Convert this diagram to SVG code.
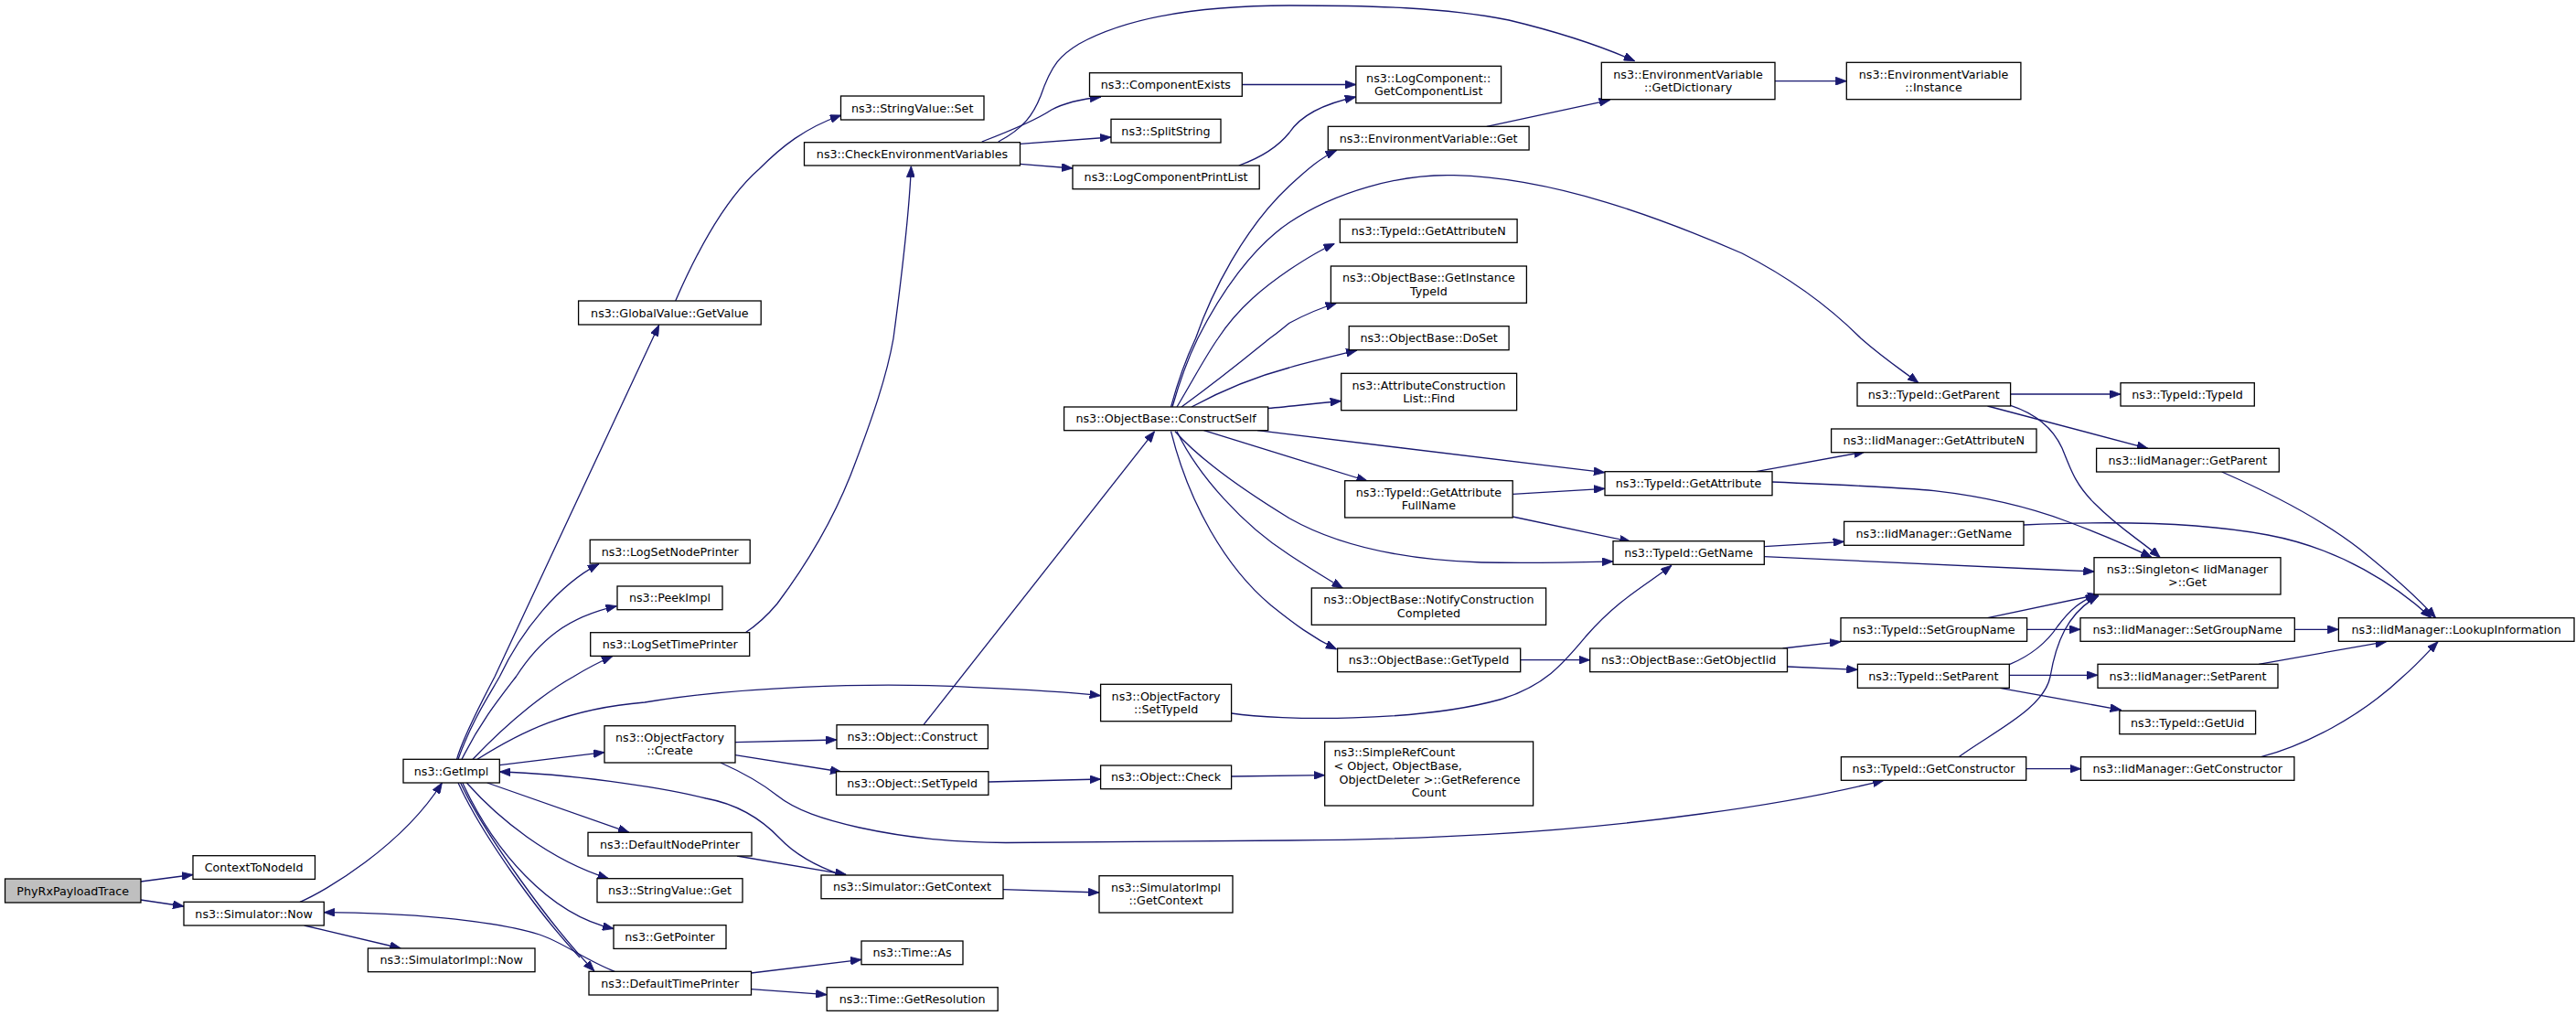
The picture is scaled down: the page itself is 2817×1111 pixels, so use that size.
<svg xmlns="http://www.w3.org/2000/svg" width="2817" height="1111" viewBox="0 0 2817 1111">
<style>
.n rect{fill:#fff;stroke:#000;stroke-width:1.3}
.g rect{fill:#bfbfbf;stroke:#000;stroke-width:1.3}
text{font-family:"DejaVu Sans","Liberation Sans",sans-serif;font-size:12.7px;text-anchor:middle;fill:#000}
text.l{text-anchor:start}
#edges path{fill:none;stroke:#191970;stroke-width:1.3;marker-end:url(#a)}
#edges path.nm{marker-end:none}
</style>
<defs>
<marker id="a" viewBox="0 0 12 9" refX="12" refY="4.5" markerWidth="12" markerHeight="9" markerUnits="userSpaceOnUse" orient="auto">
<path d="M0,0 L12,4.5 L0,9 z" fill="#191970" stroke="#191970" stroke-width="0.8"/>
</marker>
</defs>
<rect width="2817" height="1111" fill="#fff"/>
<g id="edges">
<path d="M153.8,964 L210.9,956.5"/>
<path d="M153.8,984 L201,991"/>
<path d="M328,986.3 C355,975 440,925 483.4,856"/>
<path d="M332.7,1012 L438.4,1037"/>
<path d="M672.2,1062.3 C640,1050 615,1030 590,1022 C540,1006 440,998 354.3,997.7"/>
<path d="M503.6,856 C530,912 600,1010 650,1062"/>
<path class="nm" d="M501,856 C528,915 590,1000 634,1047"/>
<path d="M532.8,856 L688,910.3"/>
<path d="M510.3,856 C545,895 600,940 665.5,960.7"/>
<path d="M505.8,856 C540,930 600,1000 671,1015.5"/>
<path d="M499.5,830.3 C505,810 520,780 541,740 L720.7,355.3"/>
<path d="M501,830.3 C515,790 535,760 546.3,740 C570,690 610,640 655,616.7"/>
<path d="M505,830.3 C525,790 545,765 564.3,740 C590,700 620,675 674.5,662.7"/>
<path d="M517,830.3 C560,785 600,755 627,740 C640,732 655,724 670,717.5"/>
<path d="M522,830.3 C570,800 620,775 705,768 C800,752 950,745 1064.7,751.7 C1120,754 1170,757 1203.6,760.7"/>
<path d="M546.3,836.7 L661,822.7"/>
<path d="M920.8,957 C895,948 870,935 853,917 C835,898 810,880 772,873 C720,860 620,846 546.3,844"/>
<path d="M806,936 L925.3,956.3"/>
<path d="M804,811.7 L915,809"/>
<path d="M804,825.7 L920,844"/>
<path d="M788,834 C815,846 835,858 850,870 C870,886 900,896 940,905 C1000,918 1050,921 1100,921.5 L1410,919 C1550,918 1700,912 1860,890 C1950,878 2010,866 2060,853.3"/>
<path d="M1081,855 L1203.6,852"/>
<path d="M1346.6,849 L1448.7,847.7"/>
<path d="M1009.9,792.7 L1262.6,471.7"/>
<path d="M1346.6,780 C1400,788 1550,790 1640,765 C1690,750 1710,725 1735,695 C1770,655 1800,640 1828,618.3"/>
<path d="M1097,972.7 L1202,976"/>
<path d="M821.5,1064 L942,1049.3"/>
<path d="M821.5,1081.7 L904.2,1087.7"/>
<path d="M815.2,691.7 C830,682 840,672 850,660 C880,620 910,570 930,520 C955,455 970,410 977,370 C985,310 994,240 996.4,181.7"/>
<path d="M738.7,329 C760,280 790,220 830,185 C855,160 880,140 919.9,126"/>
<path d="M1091.7,155 C1120,140 1130,125 1138,105 C1150,70 1160,60 1180,48 C1240,15 1330,6 1410,6 C1500,6 1580,8 1650,22 C1700,34 1750,50 1787.7,66.7"/>
<path d="M1073.7,155 C1105,143 1135,130 1150,120 C1165,112 1185,108 1204,106"/>
<path d="M1115.5,157.3 L1214.9,150"/>
<path d="M1115.5,179.3 L1173,184"/>
<path d="M1358.3,92.5 L1482.8,92.5"/>
<path d="M1354.7,181 C1380,172 1398,160 1410,145 C1420,130 1440,115 1482.8,106"/>
<path d="M1625.8,138.3 L1760.7,109.3"/>
<path d="M1941,88.7 L2019.3,88.7"/>
<path d="M1280.5,445 C1290,410 1298,390 1307.5,370 C1325,320 1360,250 1410,203.3 C1430,185 1445,172 1461.7,164.5"/>
<path d="M1282,445 C1292,410 1300,390 1309.8,370 C1335,320 1370,270 1410,243.3 C1460,210 1530,190 1590,191.7 C1700,194 1820,240 1905,277 C1960,305 2000,335 2035,370 C2060,392 2080,405 2098,418.7"/>
<path d="M1287,445 C1305,415 1318,390 1332,370 C1355,335 1385,312 1410,295 C1425,285 1440,275 1459.5,266.5"/>
<path d="M1292,445 C1340,410 1370,385 1388.5,370 C1400,362 1405,357 1410,353.3 C1425,345 1440,338 1461.7,331.5"/>
<path d="M1303,445 C1340,425 1380,410 1410,402 C1430,396 1455,390 1484,383"/>
<path d="M1386.7,446.5 C1410,444.5 1440,441 1466.7,438.5"/>
<path d="M1375,470.7 L1754.9,516.7"/>
<path d="M1316.5,470.7 L1495.4,526"/>
<path d="M1285,471.7 C1310,500 1350,530 1410,566.7 C1460,595 1530,612 1620,615 C1680,616 1720,615 1763.9,614"/>
<path d="M1287,471.7 C1310,520 1360,575 1410,606.7 C1430,620 1450,632 1468.5,643.3"/>
<path d="M1280.5,471.7 C1300,550 1340,620 1390,662 C1415,682 1435,697 1461.7,710"/>
<path d="M1654.2,540.3 L1754.9,534.3"/>
<path d="M1654.2,565 L1783.2,592.3"/>
<path d="M1662.7,721.7 L1738.7,721.7"/>
<path d="M1949.6,709 L2013,701.7"/>
<path d="M1954.5,729 L2031.4,732.3"/>
<path d="M1920.3,515.7 L2039.5,494"/>
<path d="M1937.9,527 C2010,530 2080,533 2115,536.7 C2170,543 2220,555 2260,570 C2300,585 2330,598 2353.3,609.7"/>
<path d="M1929.3,597.7 L2016.6,592.3"/>
<path d="M1929.3,608.7 C2000,612 2150,619 2290.4,625"/>
<path d="M2198.6,431 L2319,431"/>
<path d="M2173.5,444 L2348.8,490.3"/>
<path d="M2198.6,443.3 C2225,452 2245,468 2255,490 C2265,515 2270,530 2290,550 C2320,580 2340,590 2362.3,609.7"/>
<path d="M2429.7,516 C2480,538 2535,565 2580,600 C2615,628 2645,655 2663.6,675.7"/>
<path d="M2213,574 C2300,570 2400,570 2480,585 C2560,600 2620,640 2659,675.7"/>
<path d="M2173.5,675.7 L2294.9,650"/>
<path d="M2216.6,688.3 L2275,688.3"/>
<path d="M2509.3,688.3 L2557.4,688.3"/>
<path d="M2197.3,726.7 C2225,715 2240,700 2250,685 C2265,665 2275,658 2292.6,650"/>
<path d="M2197.3,738.3 L2294,738.3"/>
<path d="M2187,752.3 L2319.6,776.3"/>
<path d="M2470,726.3 L2609.6,701.7"/>
<path d="M2142,827.7 C2180,800 2235,775 2242,740 C2248,705 2260,670 2295,651.5"/>
<path d="M2215.7,840.7 L2275.5,840.7"/>
<path d="M2472.5,827.7 C2520,815 2580,785 2627.6,740 C2645,725 2655,713 2666,701.7"/>
</g>
<g id="n1" class="g"><rect x="5.5" y="961" width="148.5" height="26"/><text x="79.7" y="978.5">PhyRxPayloadTrace</text></g>
<g id="n2" class="n"><rect x="211" y="935.7" width="133.5" height="25.7"/><text x="277.7" y="953">ContextToNodeId</text></g>
<g id="n3" class="n"><rect x="201" y="986.3" width="153.3" height="25.7"/><text x="277.6" y="1003.6">ns3::Simulator::Now</text></g>
<g id="n4" class="n"><rect x="402.4" y="1037" width="182.6" height="25.7"/><text x="493.7" y="1054.3">ns3::SimulatorImpl::Now</text></g>
<g id="n5" class="n"><rect x="441" y="830.3" width="105.3" height="25.7"/><text x="493.6" y="847.6">ns3::GetImpl</text></g>
<g id="n6" class="n"><rect x="632.6" y="329" width="199.6" height="26"/><text x="732.4" y="346.5">ns3::GlobalValue::GetValue</text></g>
<g id="n7" class="n"><rect x="645.2" y="590.3" width="175" height="25.7"/><text x="732.7" y="607.6">ns3::LogSetNodePrinter</text></g>
<g id="n8" class="n"><rect x="675" y="641" width="115" height="25.7"/><text x="732.5" y="658.3">ns3::PeekImpl</text></g>
<g id="n9" class="n"><rect x="645.7" y="691.7" width="174" height="25.7"/><text x="732.7" y="709">ns3::LogSetTimePrinter</text></g>
<g id="n10" class="n"><rect x="661" y="793.7" width="143" height="40.3"/><text x="732.5" y="811">ns3::ObjectFactory</text><text x="732.5" y="825.4">::Create</text></g>
<g id="n11" class="n"><rect x="643" y="910.3" width="179" height="25.7"/><text x="732.5" y="927.6">ns3::DefaultNodePrinter</text></g>
<g id="n12" class="n"><rect x="653" y="960.7" width="159" height="26"/><text x="732.5" y="978.2">ns3::StringValue::Get</text></g>
<g id="n13" class="n"><rect x="671" y="1011.7" width="123" height="25.7"/><text x="732.5" y="1029">ns3::GetPointer</text></g>
<g id="n14" class="n"><rect x="644" y="1062.3" width="177.5" height="25.7"/><text x="732.7" y="1079.6">ns3::DefaultTimePrinter</text></g>
<g id="n15" class="n"><rect x="919.5" y="105" width="156.5" height="26"/><text x="997.7" y="122.5">ns3::StringValue::Set</text></g>
<g id="n16" class="n"><rect x="879.5" y="155.7" width="236" height="25.3"/><text x="997.5" y="172.8">ns3::CheckEnvironmentVariables</text></g>
<g id="n17" class="n"><rect x="1191.5" y="79.7" width="166.8" height="25.6"/><text x="1274.9" y="97">ns3::ComponentExists</text></g>
<g id="n18" class="n"><rect x="1215" y="130.3" width="120" height="25.7"/><text x="1275" y="147.6">ns3::SplitString</text></g>
<g id="n19" class="n"><rect x="1173" y="181" width="204.2" height="25.7"/><text x="1275.1" y="198.3">ns3::LogComponentPrintList</text></g>
<g id="n20" class="n"><rect x="1482.8" y="72.3" width="158.8" height="40.4"/><text x="1562.2" y="89.7">ns3::LogComponent::</text><text x="1562.2" y="104.1">GetComponentList</text></g>
<g id="n21" class="n"><rect x="1751.3" y="68.3" width="189.7" height="40.4"/><text x="1846.1" y="85.7">ns3::EnvironmentVariable</text><text x="1846.1" y="100.1">::GetDictionary</text></g>
<g id="n22" class="n"><rect x="2019.3" y="68.3" width="190.6" height="40.4"/><text x="2114.6" y="85.7">ns3::EnvironmentVariable</text><text x="2114.6" y="100.1">::Instance</text></g>
<g id="n23" class="n"><rect x="1452.3" y="138.3" width="219.8" height="25.7"/><text x="1562.2" y="155.6">ns3::EnvironmentVariable::Get</text></g>
<g id="n24" class="n"><rect x="1163.6" y="445" width="223.1" height="25.7"/><text x="1275.1" y="462.3">ns3::ObjectBase::ConstructSelf</text></g>
<g id="n25" class="n"><rect x="1465.3" y="239.7" width="193.8" height="25.6"/><text x="1562.2" y="257">ns3::TypeId::GetAttributeN</text></g>
<g id="n26" class="n"><rect x="1455.4" y="291" width="214" height="40.3"/><text x="1562.4" y="308.3">ns3::ObjectBase::GetInstance</text><text x="1562.4" y="322.7">TypeId</text></g>
<g id="n27" class="n"><rect x="1475.2" y="356.7" width="174.9" height="26"/><text x="1562.6" y="374.2">ns3::ObjectBase::DoSet</text></g>
<g id="n28" class="n"><rect x="1466.7" y="408.3" width="191.9" height="40.4"/><text x="1562.6" y="425.7">ns3::AttributeConstruction</text><text x="1562.6" y="440.1">List::Find</text></g>
<g id="n29" class="n"><rect x="1470.7" y="525.7" width="183.5" height="40.3"/><text x="1562.4" y="543">ns3::TypeId::GetAttribute</text><text x="1562.4" y="557.4">FullName</text></g>
<g id="n30" class="n"><rect x="1434.3" y="643" width="256.3" height="40.3"/><text x="1562.4" y="660.3">ns3::ObjectBase::NotifyConstruction</text><text x="1562.4" y="674.7">Completed</text></g>
<g id="n31" class="n"><rect x="1462.6" y="709" width="200.1" height="25.7"/><text x="1562.6" y="726.3">ns3::ObjectBase::GetTypeId</text></g>
<g id="n32" class="n"><rect x="2031" y="418.7" width="167.6" height="25.3"/><text x="2114.8" y="435.8">ns3::TypeId::GetParent</text></g>
<g id="n33" class="n"><rect x="1755" y="515.7" width="183" height="26"/><text x="1846.5" y="533.2">ns3::TypeId::GetAttribute</text></g>
<g id="n34" class="n"><rect x="2002.6" y="469" width="224.4" height="25.7"/><text x="2114.8" y="486.3">ns3::IidManager::GetAttributeN</text></g>
<g id="n35" class="n"><rect x="1764" y="591.7" width="165.3" height="25.6"/><text x="1846.6" y="609">ns3::TypeId::GetName</text></g>
<g id="n36" class="n"><rect x="2016.6" y="570.3" width="196.4" height="26"/><text x="2114.8" y="587.8">ns3::IidManager::GetName</text></g>
<g id="n37" class="n"><rect x="1738.7" y="709" width="215.8" height="25.7"/><text x="1846.6" y="726.3">ns3::ObjectBase::GetObjectIid</text></g>
<g id="n38" class="n"><rect x="2013" y="675.7" width="203.6" height="25.6"/><text x="2114.8" y="693">ns3::TypeId::SetGroupName</text></g>
<g id="n39" class="n"><rect x="2031.4" y="726.3" width="165.9" height="26"/><text x="2114.3" y="743.8">ns3::TypeId::SetParent</text></g>
<g id="n40" class="n"><rect x="2319" y="418.7" width="146.3" height="25.3"/><text x="2392.1" y="435.8">ns3::TypeId::TypeId</text></g>
<g id="n41" class="n"><rect x="2292.6" y="490.3" width="199.7" height="25.7"/><text x="2392.4" y="507.6">ns3::IidManager::GetParent</text></g>
<g id="n42" class="n"><rect x="2290" y="609.7" width="204" height="40.3"/><text x="2392" y="627">ns3::Singleton&lt; IidManager</text><text x="2392" y="641.4">&gt;::Get</text></g>
<g id="n43" class="n"><rect x="2275" y="675.7" width="234.3" height="25.6"/><text x="2392.1" y="693">ns3::IidManager::SetGroupName</text></g>
<g id="n44" class="n"><rect x="2557.4" y="675.7" width="257.6" height="25.6"/><text x="2686.2" y="693">ns3::IidManager::LookupInformation</text></g>
<g id="n45" class="n"><rect x="2294" y="726.3" width="197" height="26"/><text x="2392.5" y="743.8">ns3::IidManager::SetParent</text></g>
<g id="n46" class="n"><rect x="2317.8" y="777.3" width="148.8" height="25.4"/><text x="2392.2" y="794.5">ns3::TypeId::GetUid</text></g>
<g id="n47" class="n"><rect x="2013.4" y="827.7" width="202.3" height="25.6"/><text x="2114.5" y="845">ns3::TypeId::GetConstructor</text></g>
<g id="n48" class="n"><rect x="2275.5" y="827.7" width="233.4" height="25.6"/><text x="2392.2" y="845">ns3::IidManager::GetConstructor</text></g>
<g id="n49" class="n"><rect x="1448.7" y="811" width="227.9" height="70"/><text class="l" x="1458.5" y="827.2">ns3::SimpleRefCount</text><text class="l" x="1458.5" y="842.2">&lt; Object, ObjectBase,</text><text x="1563.5" y="857.2">ObjectDeleter &gt;::GetReference</text><text x="1562.6" y="871.2">Count</text></g>
<g id="n50" class="n"><rect x="1203.6" y="748.3" width="143" height="40.4"/><text x="1275.1" y="765.7">ns3::ObjectFactory</text><text x="1275.1" y="780.1">::SetTypeId</text></g>
<g id="n51" class="n"><rect x="915" y="792.7" width="165.4" height="26"/><text x="997.7" y="810.2">ns3::Object::Construct</text></g>
<g id="n52" class="n"><rect x="914.5" y="843.7" width="166.4" height="25.6"/><text x="997.7" y="861">ns3::Object::SetTypeId</text></g>
<g id="n53" class="n"><rect x="1203.6" y="837" width="143" height="25.7"/><text x="1275.1" y="854.3">ns3::Object::Check</text></g>
<g id="n54" class="n"><rect x="898" y="957" width="199" height="25.7"/><text x="997.5" y="974.3">ns3::Simulator::GetContext</text></g>
<g id="n55" class="n"><rect x="1202" y="957.7" width="146" height="40.3"/><text x="1275" y="975">ns3::SimulatorImpl</text><text x="1275" y="989.4">::GetContext</text></g>
<g id="n56" class="n"><rect x="942" y="1029" width="111" height="25.7"/><text x="997.5" y="1046.3">ns3::Time::As</text></g>
<g id="n57" class="n"><rect x="904.2" y="1079.7" width="187" height="25.6"/><text x="997.7" y="1097">ns3::Time::GetResolution</text></g>
</svg>
